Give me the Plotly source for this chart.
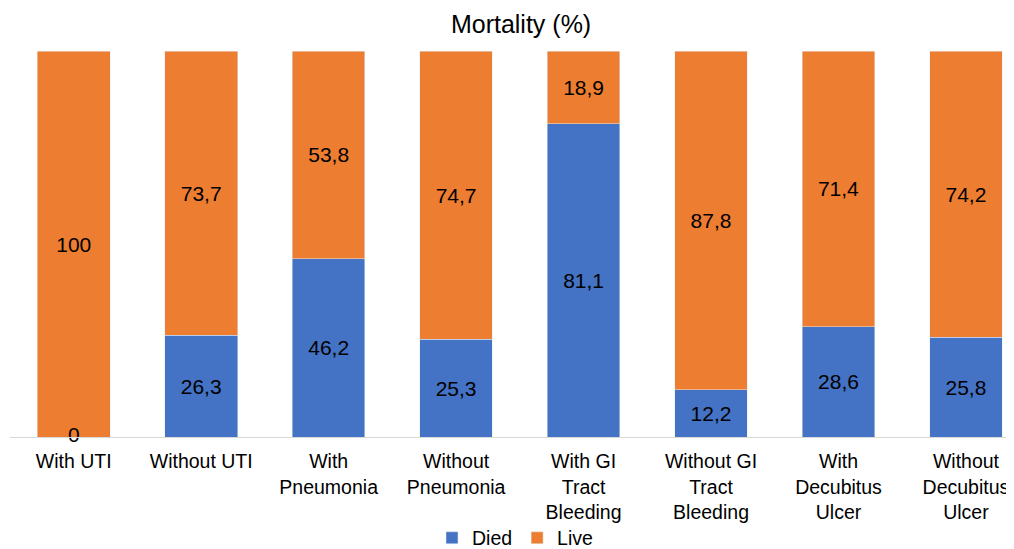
import plotly.graph_objects as go

categories = ["With UTI", "Without UTI", "With<br>Pneumonia", "Without<br>Pneumonia",
              "With GI<br>Tract<br>Bleeding", "Without GI<br>Tract<br>Bleeding",
              "With<br>Decubitus<br>Ulcer", "Without<br>Decubitus<br>Ulcer"]
died = [0, 26.3, 46.2, 25.3, 81.1, 12.2, 28.6, 25.8]
live = [100, 73.7, 53.8, 74.7, 18.9, 87.8, 71.4, 74.2]

def fmt(v):
    s = f"{v:g}"
    return s.replace(".", ",")

FONT = "Liberation Sans, Arial, sans-serif"
x_idx = list(range(len(categories)))

fig = go.Figure()
fig.add_trace(go.Bar(x=x_idx, y=died, name="Died", marker_color="#4472C4",
                     text=[fmt(v) for v in died], textposition="inside",
                     insidetextanchor="middle", width=0.57,
                     textfont=dict(color="black", size=21, family=FONT)))
fig.add_trace(go.Bar(x=x_idx, y=live, name="Live", marker_color="#ED7D31",
                     text=[fmt(v) for v in live], textposition="inside",
                     insidetextanchor="middle", width=0.57,
                     textfont=dict(color="black", size=21, family=FONT)))
zx = [i for i, v in enumerate(died) if v == 0]
fig.add_trace(go.Scatter(x=zx, y=[died[i] for i in zx], mode="text",
                         text=[fmt(died[i]) for i in zx], showlegend=False,
                         textfont=dict(color="black", size=21, family=FONT),
                         hoverinfo="skip", cliponaxis=False))

fig.update_layout(
    barmode="stack",
    width=1006, height=541,
    margin=dict(l=2, r=0, t=43, b=112, autoexpand=False),
    plot_bgcolor="white", paper_bgcolor="white",
    font=dict(family=FONT, size=20, color="black"),
    title=dict(text="Mortality (%)", x=0.51, xanchor="center", y=0.9705, yanchor="middle",
               font=dict(size=25, color="black", family=FONT)),
    uniformtext=dict(mode=False),
    legend=dict(orientation="h", x=0.503, xanchor="center", y=-0.262, yanchor="middle",
                font=dict(size=19.5, color="black", family=FONT), traceorder="normal",
                borderwidth=0, tracegroupgap=0),
    xaxis=dict(tickmode="array", tickvals=x_idx, ticktext=categories, automargin=False,
               range=[-0.5, 7.377], showgrid=False, showline=True, linecolor="#D9D9D9",
               linewidth=1, ticks="", ticklabelstandoff=7,
               tickfont=dict(size=19.5, color="black", family=FONT)),
    yaxis=dict(range=[0, 100], visible=False, showgrid=False, zeroline=False, automargin=False),
)
fig.write_html("out.html")
